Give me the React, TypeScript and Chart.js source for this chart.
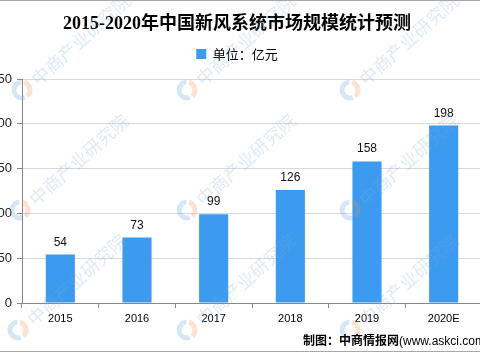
import React, { useEffect, useRef } from "react";
import { Chart, registerables } from "chart.js";

Chart.register(...registerables);

const categories = ["2015", "2016", "2017", "2018", "2019", "2020E"];
const marketSize = [54, 73, 99, 126, 158, 198];
const yTicks = [0, 50, 100, 150, 200, 250];
const titleText = "2015-2020年中国新风系统市场规模统计预测";
const seriesName = "单位：亿元";
const sourceCn = "制图：中商情报网";
const sourceEn = "(www.askci.com)";
const watermarkText = "中商产业研究院";
const watermarkAnchors = [
  [30, 90], [28, 210], [26, 330],
  [195, 90], [195, 210], [195, 330],
  [358, 90], [358, 210], [358, 330],
];

const BAR_COLOR = "#3d9bef";
const CANVAS_W = 490;
const CANVAS_H = 355;

const valueLabels = {
  id: "valueLabels",
  afterDatasetsDraw(chart: any) {
    const ctx = chart.ctx;
    const meta = chart.getDatasetMeta(0);
    ctx.save();
    ctx.font = "12px 'Liberation Sans', Arial, sans-serif";
    ctx.fillStyle = "#111";
    ctx.textAlign = "center";
    ctx.textBaseline = "alphabetic";
    meta.data.forEach((bar: any, i: number) => {
      ctx.fillText(String(marketSize[i]), bar.x, bar.y - 9);
    });
    ctx.restore();
  },
};

const decorations = {
  id: "decorations",
  afterDraw(chart: any) {
    const ctx = chart.ctx;
    ctx.save();
    // watermarks
    watermarkAnchors.forEach(([x, y]) => {
      ctx.save();
      ctx.globalAlpha = 0.25;
      ctx.lineWidth = 5;
      ctx.strokeStyle = "#5b9bd5";
      ctx.beginPath();
      ctx.arc(x, y, 8, (70 * Math.PI) / 180, (265 * Math.PI) / 180);
      ctx.stroke();
      ctx.strokeStyle = "#f08a4b";
      ctx.beginPath();
      ctx.arc(x, y, 8, (285 * Math.PI) / 180, (50 * Math.PI) / 180);
      ctx.stroke();
      ctx.translate(x + 12, y - 8);
      ctx.rotate((-42 * Math.PI) / 180);
      ctx.fillStyle = "#7fa7d6";
      ctx.font = "18px 'Noto Sans CJK SC', sans-serif";
      ctx.textAlign = "left";
      ctx.textBaseline = "middle";
      ctx.fillText(watermarkText, 0, 0);
      ctx.restore();
    });
    // frame lines
    ctx.strokeStyle = "#a8a8a8";
    ctx.lineWidth = 1;
    ctx.beginPath();
    ctx.moveTo(0, 0.5);
    ctx.lineTo(CANVAS_W, 0.5);
    ctx.moveTo(0, 351.5);
    ctx.lineTo(CANVAS_W, 351.5);
    ctx.stroke();
    // source
    ctx.fillStyle = "#000";
    ctx.textAlign = "left";
    ctx.textBaseline = "alphabetic";
    ctx.font = "bold 12px 'Noto Sans CJK SC', sans-serif";
    const x0 = 311;
    ctx.fillText(sourceCn, x0, 345);
    const w = ctx.measureText(sourceCn).width;
    ctx.font = "12px 'Liberation Sans', Arial, sans-serif";
    ctx.fillText(sourceEn, x0 + w, 345);
    ctx.restore();
  },
};

export default function App() {
  const ref = useRef<HTMLCanvasElement | null>(null);

  useEffect(() => {
    if (!ref.current) return;
    const chart = new Chart(ref.current, {
      type: "bar",
      data: {
        labels: categories,
        datasets: [
          {
            label: seriesName,
            data: marketSize,
            backgroundColor: BAR_COLOR,
            borderWidth: 0,
            barPercentage: 0.38,
            categoryPercentage: 1,
          },
        ],
      },
      options: {
        animation: false,
        responsive: false,
        layout: { padding: { left: 0, right: 0, top: 0, bottom: 0 } },
        plugins: {
          title: {
            display: true,
            text: titleText,
            color: "#000",
            font: {
              family: "'Liberation Serif', 'Noto Sans CJK SC', serif",
              size: 18,
              weight: "bold",
            },
            padding: { top: 14, bottom: 2 },
          },
          legend: {
            display: true,
            labels: {
              boxWidth: 10,
              boxHeight: 10,
              color: "#000",
              padding: 10,
              font: { family: "'Noto Sans CJK SC', sans-serif", size: 13 },
            },
          },
          subtitle: {
            display: true,
            text: " ",
            weight: 100,
            font: { size: 7 },
            padding: 0,
          } as any,
          tooltip: { enabled: false },
        },
        scales: {
          x: {
            grid: {
              display: true,
              drawOnChartArea: false,
              tickLength: 5,
              color: "#888",
              offset: true,
            },
            border: { color: "#888" },
            ticks: {
              color: "#000",
              padding: 4,
              font: { family: "'Liberation Sans', Arial, sans-serif", size: 11 },
            },
            afterFit: (s: any) => {
              s.height = 52;
            },
          },
          y: {
            min: 0,
            max: 250,
            afterBuildTicks: (s: any) => {
              s.ticks = yTicks.map((v) => ({ value: v }));
            },
            grid: { color: "#d9d9d9", tickColor: "#888", tickLength: 5 },
            border: { color: "#888" },
            ticks: {
              color: "#222",
              padding: 5,
              font: { family: "'Liberation Sans', Arial, sans-serif", size: 13 },
            },
            afterFit: (s: any) => {
              s.width = 30;
            },
          },
        },
      },
      plugins: [valueLabels, decorations],
    });
    return () => chart.destroy();
  }, []);

  return (
    <div
      style={{
        position: "fixed",
        left: 0,
        top: 0,
        width: 480,
        height: 355,
        overflow: "hidden",
        background: "#fff",
      }}
    >
      <div style={{ position: "absolute", left: -8, top: 0, width: CANVAS_W, height: CANVAS_H }}>
        <canvas
          ref={ref}
          width={CANVAS_W}
          height={CANVAS_H}
          style={{ display: "block", width: CANVAS_W, height: CANVAS_H }}
        />
      </div>
    </div>
  );
}
